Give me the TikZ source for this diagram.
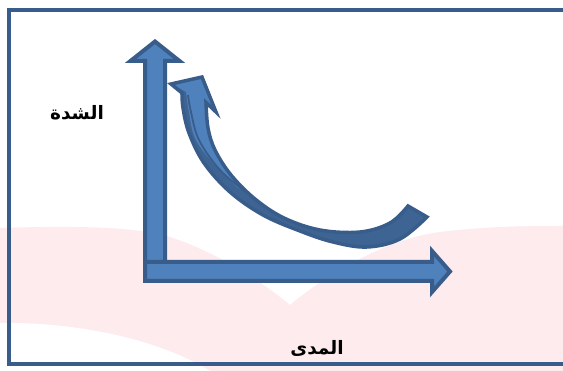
\documentclass[tikz,border=0pt]{standalone}
\usepackage{fontspec}
\newfontfamily\arabicfont[Script=Arabic]{DejaVu Sans}
\TeXXeTstate=1
\definecolor{afill}{HTML}{4F81BD}
\definecolor{aline}{HTML}{385D8A}
\definecolor{adark}{HTML}{3E6493}
\definecolor{wm}{HTML}{FDEBED}
\begin{document}
\begin{tikzpicture}[x=1pt,y=-1pt,
  arrowshape/.style={fill=afill,draw=aline,line width=4pt,line join=miter},
  arlabel/.style={font=\arabicfont\bfseries\fontsize{18.5}{22}\selectfont,inner sep=0pt}]
\useasboundingbox (0,0) rectangle (563,371);
\fill[white] (0,0) rectangle (563,371);
% watermark
\fill[wm] (0,228) .. controls (60,226) and (120,226) .. (160,234) .. controls (210,248) and (260,280) .. (290,305) .. controls (320,280) and (380,240) .. (440,232) .. controls (490,226) and (530,226) .. (563,226) -- (563,371) -- (0,371) -- cycle;
\fill[white] (0,323) .. controls (80,322) and (160,340) .. (210,371) -- (0,371) -- cycle;
% frame
\draw[aline,line width=4pt] (566,10) -- (9,10) -- (9,364) -- (566,364);
% vertical axis arrow
\draw[arrowshape] (145,270) -- (145,61) -- (130.5,61) -- (155,41.5) -- (179.5,61) -- (165,61) -- (165,270) -- cycle;
% horizontal axis arrow
\draw[arrowshape] (145,262) -- (432,262) -- (432,251) -- (450,271.5) -- (432,292) -- (432,281) -- (145,281) -- cycle;
% curved arrow
\fill[adark] plot[smooth,tension=0.6] coordinates {(427,217) (400,239) (367,247) (333,242) (300,231) (263,215) (230,192) (204,163) (189,133) (183,108) (182,93)}
  -- (171,84) -- (202,77) -- (216,112) -- (206,102.5)
  -- plot[smooth,tension=0.6] coordinates {(206,102.5) (208,128) (215,150) (231,175) (255,199) (284,218) (320,230) (360,232) (390,223) (408,206)} -- cycle;
\begin{scope}
\clip plot[smooth,tension=0.6] coordinates {(427,217) (400,239) (367,247) (333,242) (300,231) (263,215) (230,192) (204,163) (189,133) (183,108) (182,93)}
  -- (171,84) -- (202,77) -- (216,112) -- (206,102.5)
  -- plot[smooth,tension=0.6] coordinates {(206,102.5) (208,128) (215,150) (231,175) (255,199) (284,218) (320,230) (360,232) (390,223) (408,206)} -- cycle;
\fill[afill] (165,80) -- (205,70) -- (222,115) -- plot[smooth,tension=0.6] coordinates {(210,128) (217,150) (233,175) (250,192)} -- plot[smooth,tension=0.6] coordinates {(238,188) (213,163) (195,138) (189,112) (186,92)} -- cycle;
\draw[aline,line width=1.8pt] plot[smooth,tension=0.6] coordinates {(247,193) (220,170) (199,140) (191,112) (188,95)};
\end{scope}
\draw[aline,line width=3.5pt,line join=miter] plot[smooth,tension=0.6] coordinates {(427,217) (400,239) (367,247) (333,242) (300,231) (263,215) (230,192) (204,163) (189,133) (183,108) (182,93)}
  -- (171,84) -- (202,77) -- (216,112) -- (206,102.5)
  -- plot[smooth,tension=0.6] coordinates {(206,102.5) (208,128) (215,150) (231,175) (255,199) (284,218) (320,230) (360,232) (390,223) (408,206)} -- cycle;
% labels
\node[arlabel] (shidda) at (77,113) {\beginR الشدة\endR};
\node[arlabel] (mada) at (317,348) {\beginR المدى\endR};
\end{tikzpicture}
\end{document}
